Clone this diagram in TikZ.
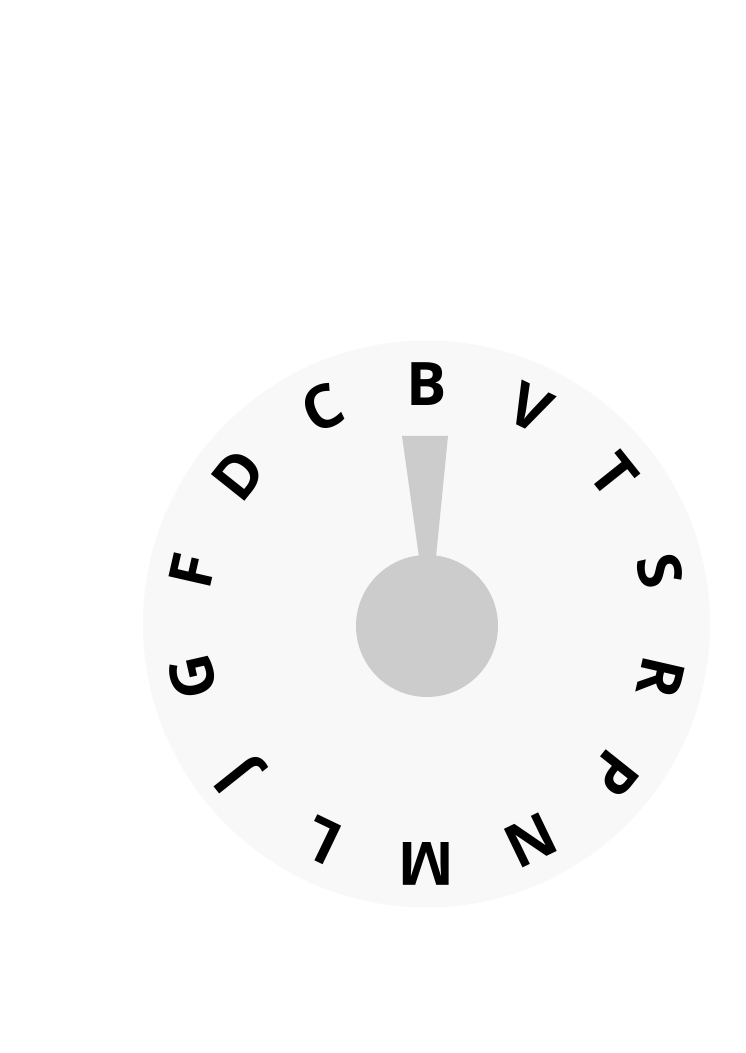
\documentclass[tikz,border=0pt]{standalone}
\usepackage{fontspec}
\setmainfont{Open Sans}
\usetikzlibrary{calc}
\definecolor{cFace}{RGB}{248,248,248}
\definecolor{cKnob}{RGB}{204,204,204}
\tikzset{
	dialface/.style={circle, fill=cFace, minimum size=567pt, inner sep=0pt},
	knob/.style    ={circle, fill=cKnob, minimum size=142pt, inner sep=0pt},
	letter/.style  ={font=\fontsize{60}{60}\selectfont\bfseries, inner sep=0pt, anchor=center},
}
\begin{document}
\begin{tikzpicture}[x=1pt, y=1pt]
	\useasboundingbox (0,0) rectangle (745,1053);
	\node[dialface] (face) at (426.5,429) {};
	\node[knob] (knob) at (427,427) {};
	% pointer
	\fill[cKnob] (402,617) -- (448,617) -- (436,496) -- (419,496) -- cycle;
	\foreach \l [count=\i from 0] in {B,V,T,S,R,P,N,M,L,J,G,F,D,C}
		\node[letter, rotate=-\i*360/14] (l\i) at ($(face.center)+({90-\i*360/14}:240)$) {\l};
\end{tikzpicture}
\end{document}
